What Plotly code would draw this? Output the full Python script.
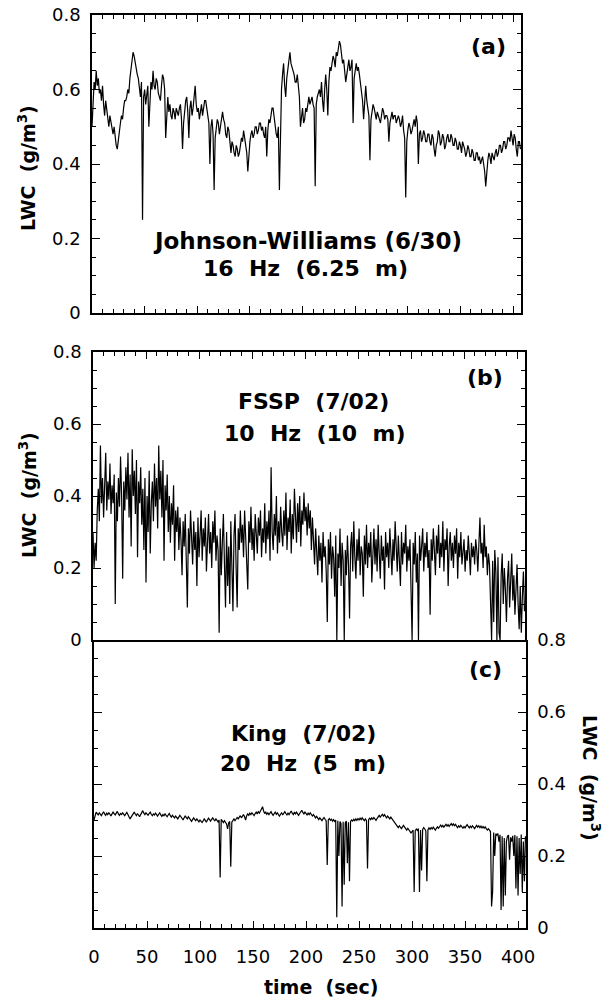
import plotly.graph_objects as go

# ---------------- data ----------------
# Panel (a): Johnson-Williams (6/30), one value per second
time_a = list(range(0, 408))
lwc_a = [
    0.50, 0.58, 0.62, 0.60, 0.65, 0.61, 0.63, 0.59, 0.60, 0.57, 0.61, 0.56, 0.53, 0.57, 0.55, 0.52, 0.50, 0.53, 0.51, 0.49,
    0.48, 0.50, 0.47, 0.45, 0.44, 0.47, 0.49, 0.51, 0.53, 0.52, 0.55, 0.57, 0.57, 0.58, 0.60, 0.59, 0.63, 0.66, 0.68, 0.70,
    0.69, 0.67, 0.66, 0.64, 0.63, 0.60, 0.58, 0.62, 0.25, 0.58, 0.60, 0.56, 0.58, 0.61, 0.50, 0.59, 0.62, 0.60, 0.65, 0.61,
    0.60, 0.63, 0.62, 0.59, 0.58, 0.57, 0.61, 0.64, 0.63, 0.60, 0.47, 0.55, 0.58, 0.54, 0.56, 0.53, 0.52, 0.55, 0.54, 0.52,
    0.55, 0.54, 0.53, 0.55, 0.56, 0.52, 0.44, 0.51, 0.55, 0.57, 0.58, 0.54, 0.47, 0.55, 0.57, 0.53, 0.55, 0.58, 0.61, 0.56,
    0.54, 0.55, 0.52, 0.54, 0.56, 0.53, 0.55, 0.57, 0.57, 0.54, 0.53, 0.51, 0.40, 0.50, 0.52, 0.48, 0.33, 0.47, 0.49, 0.52,
    0.51, 0.48, 0.50, 0.52, 0.54, 0.52, 0.51, 0.48, 0.47, 0.50, 0.49, 0.46, 0.43, 0.46, 0.45, 0.43, 0.42, 0.45, 0.44, 0.42,
    0.43, 0.45, 0.47, 0.46, 0.49, 0.47, 0.45, 0.43, 0.38, 0.44, 0.46, 0.48, 0.49, 0.47, 0.48, 0.50, 0.50, 0.48, 0.49, 0.51,
    0.51, 0.49, 0.50, 0.48, 0.47, 0.50, 0.42, 0.49, 0.52, 0.51, 0.53, 0.55, 0.55, 0.52, 0.50, 0.48, 0.47, 0.50, 0.33, 0.48,
    0.60, 0.64, 0.67, 0.61, 0.58, 0.63, 0.66, 0.69, 0.70, 0.67, 0.66, 0.65, 0.64, 0.62, 0.62, 0.64, 0.61, 0.58, 0.50, 0.53,
    0.55, 0.51, 0.52, 0.55, 0.54, 0.56, 0.58, 0.56, 0.57, 0.58, 0.56, 0.55, 0.34, 0.56, 0.58, 0.59, 0.60, 0.58, 0.62, 0.57,
    0.54, 0.60, 0.64, 0.60, 0.53, 0.62, 0.66, 0.65, 0.67, 0.69, 0.68, 0.66, 0.70, 0.69, 0.71, 0.73, 0.72, 0.69, 0.67, 0.68,
    0.65, 0.62, 0.64, 0.67, 0.68, 0.65, 0.66, 0.68, 0.51, 0.63, 0.66, 0.67, 0.65, 0.66, 0.64, 0.62, 0.60, 0.57, 0.52, 0.58,
    0.61, 0.57, 0.55, 0.53, 0.41, 0.52, 0.54, 0.56, 0.55, 0.53, 0.52, 0.54, 0.53, 0.52, 0.51, 0.53, 0.55, 0.54, 0.52, 0.53,
    0.53, 0.52, 0.46, 0.51, 0.53, 0.54, 0.52, 0.53, 0.53, 0.51, 0.52, 0.53, 0.52, 0.50, 0.51, 0.53, 0.49, 0.47, 0.31, 0.46,
    0.49, 0.51, 0.50, 0.48, 0.49, 0.51, 0.52, 0.50, 0.53, 0.51, 0.40, 0.48, 0.49, 0.46, 0.47, 0.49, 0.48, 0.46, 0.46, 0.48,
    0.48, 0.46, 0.45, 0.48, 0.47, 0.44, 0.42, 0.45, 0.46, 0.49, 0.48, 0.45, 0.46, 0.48, 0.47, 0.44, 0.45, 0.47, 0.48, 0.46,
    0.46, 0.48, 0.47, 0.45, 0.45, 0.47, 0.46, 0.44, 0.44, 0.46, 0.45, 0.43, 0.46, 0.45, 0.44, 0.42, 0.43, 0.45, 0.44, 0.42,
    0.42, 0.44, 0.43, 0.41, 0.41, 0.43, 0.43, 0.41, 0.42, 0.40, 0.41, 0.42, 0.40, 0.38, 0.34, 0.39, 0.41, 0.43, 0.42, 0.40,
    0.43, 0.42, 0.41, 0.43, 0.44, 0.42, 0.43, 0.45, 0.45, 0.43, 0.44, 0.46, 0.46, 0.44, 0.45, 0.47, 0.47, 0.46, 0.49, 0.47,
    0.45, 0.48, 0.47, 0.44, 0.42, 0.46, 0.46, 0.44,
]

# Panel (b): FSSP (7/02), one value per second
time_b = list(range(0, 408))
lwc_b = [
    0.30, 0.20, 0.27, 0.22, 0.36, 0.42, 0.33, 0.54, 0.38, 0.45, 0.34, 0.47, 0.52, 0.36, 0.44, 0.39, 0.49, 0.35, 0.43, 0.38,
    0.46, 0.10, 0.41, 0.33, 0.45, 0.37, 0.51, 0.40, 0.17, 0.44, 0.36, 0.48, 0.39, 0.52, 0.34, 0.46, 0.26, 0.53, 0.40, 0.47,
    0.35, 0.50, 0.23, 0.44, 0.38, 0.48, 0.32, 0.42, 0.25, 0.45, 0.16, 0.40, 0.30, 0.47, 0.24, 0.38, 0.44, 0.33, 0.49, 0.37,
    0.45, 0.31, 0.54, 0.39, 0.47, 0.34, 0.50, 0.22, 0.43, 0.36, 0.46, 0.30, 0.40, 0.27, 0.38, 0.32, 0.43, 0.22, 0.36, 0.30,
    0.37, 0.25, 0.34, 0.28, 0.18, 0.33, 0.26, 0.35, 0.22, 0.09, 0.31, 0.24, 0.36, 0.27, 0.21, 0.33, 0.25, 0.30, 0.15, 0.34,
    0.23, 0.29, 0.36, 0.22, 0.31, 0.26, 0.34, 0.19, 0.28, 0.35, 0.24, 0.30, 0.20, 0.33, 0.27, 0.36, 0.22, 0.29, 0.25, 0.02,
    0.31, 0.18, 0.27, 0.35, 0.21, 0.09, 0.30, 0.15, 0.26, 0.10, 0.33, 0.23, 0.08, 0.29, 0.35, 0.20, 0.09, 0.31, 0.25, 0.36,
    0.27, 0.32, 0.23, 0.36, 0.29, 0.24, 0.14, 0.33, 0.27, 0.37, 0.25, 0.31, 0.22, 0.35, 0.28, 0.24, 0.34, 0.29, 0.36, 0.23,
    0.31, 0.27, 0.38, 0.24, 0.33, 0.28, 0.36, 0.22, 0.48, 0.30, 0.25, 0.35, 0.29, 0.40, 0.24, 0.33, 0.27, 0.37, 0.30, 0.26,
    0.36, 0.29, 0.41, 0.25, 0.34, 0.30, 0.39, 0.24, 0.35, 0.28, 0.42, 0.31, 0.27, 0.38, 0.30, 0.40, 0.26, 0.36, 0.32, 0.41,
    0.33, 0.37, 0.29, 0.38, 0.31, 0.36, 0.25, 0.34, 0.28, 0.21, 0.31, 0.24, 0.18, 0.29, 0.22, 0.27, 0.16, 0.30, 0.23, 0.26,
    0.19, 0.05, 0.28, 0.21, 0.30, 0.17, 0.26, 0.23, 0.12, 0.29, 0.00, 0.24, 0.20, 0.31, 0.15, 0.27, 0.22, 0.00, 0.25, 0.18,
    0.29, 0.21, 0.06, 0.26, 0.30, 0.19, 0.33, 0.23, 0.17, 0.28, 0.22, 0.31, 0.18, 0.26, 0.24, 0.12, 0.29, 0.21, 0.32, 0.20,
    0.27, 0.23, 0.30, 0.16, 0.25, 0.31, 0.21, 0.28, 0.19, 0.32, 0.24, 0.17, 0.29, 0.22, 0.26, 0.14, 0.30, 0.23, 0.27, 0.20,
    0.31, 0.24, 0.18, 0.28, 0.22, 0.33, 0.25, 0.19, 0.29, 0.23, 0.15, 0.30, 0.21, 0.27, 0.24, 0.32, 0.19, 0.26, 0.22, 0.28,
    0.17, 0.00, 0.27, 0.21, 0.30, 0.16, 0.24, 0.00, 0.29, 0.22, 0.26, 0.31, 0.19, 0.27, 0.23, 0.30, 0.20, 0.25, 0.07, 0.28,
    0.22, 0.31, 0.25, 0.18, 0.29, 0.24, 0.32, 0.20, 0.27, 0.23, 0.33, 0.19, 0.28, 0.25, 0.31, 0.15, 0.26, 0.30, 0.22, 0.27,
    0.20, 0.29, 0.24, 0.31, 0.17, 0.27, 0.23, 0.30, 0.21, 0.26, 0.28, 0.19, 0.25, 0.22, 0.29, 0.24, 0.18, 0.27, 0.23, 0.26,
    0.21, 0.28, 0.25, 0.19, 0.30, 0.34, 0.24, 0.27, 0.20, 0.32, 0.23, 0.26, 0.18, 0.24, 0.21, 0.08, 0.00, 0.22, 0.05, 0.25,
    0.19, 0.00, 0.23, 0.02, 0.00, 0.18, 0.24, 0.10, 0.20, 0.14, 0.05, 0.17, 0.22, 0.09, 0.15, 0.24, 0.11, 0.18, 0.07, 0.13,
    0.21, 0.10, 0.03, 0.15, 0.02, 0.12, 0.19, 0.08,
]

# Panel (c): King (7/02), one value per second
time_c = list(range(0, 408))
lwc_c = [
    0.300, 0.312, 0.322, 0.318, 0.314, 0.320, 0.316, 0.312, 0.318, 0.323, 0.317, 0.313, 0.319, 0.315, 0.321, 0.316, 0.311, 0.317, 0.322, 0.318,
    0.314, 0.319, 0.324, 0.317, 0.313, 0.318, 0.315, 0.320, 0.316, 0.312, 0.317, 0.321, 0.315, 0.310, 0.303, 0.308, 0.314, 0.319, 0.322, 0.316,
    0.312, 0.318, 0.314, 0.309, 0.315, 0.321, 0.326, 0.319, 0.315, 0.320, 0.317, 0.313, 0.318, 0.322, 0.316, 0.312, 0.317, 0.314, 0.319, 0.315,
    0.311, 0.316, 0.320, 0.314, 0.310, 0.315, 0.312, 0.317, 0.313, 0.309, 0.314, 0.318, 0.312, 0.308, 0.313, 0.310, 0.306, 0.311, 0.307, 0.303,
    0.308, 0.313, 0.309, 0.304, 0.300, 0.306, 0.311, 0.307, 0.303, 0.309, 0.305, 0.300, 0.296, 0.301, 0.306, 0.302, 0.298, 0.303, 0.299, 0.295,
    0.300, 0.297, 0.293, 0.298, 0.303, 0.299, 0.294, 0.300, 0.305, 0.301, 0.297, 0.302, 0.306, 0.301, 0.298, 0.303, 0.299, 0.295, 0.300, 0.140,
    0.302, 0.297, 0.293, 0.298, 0.294, 0.289, 0.275, 0.292, 0.296, 0.170, 0.294, 0.299, 0.303, 0.298, 0.302, 0.307, 0.303, 0.308, 0.312, 0.306,
    0.310, 0.315, 0.309, 0.300, 0.312, 0.317, 0.313, 0.319, 0.315, 0.320, 0.316, 0.312, 0.318, 0.322, 0.317, 0.323, 0.319, 0.326, 0.331, 0.337,
    0.325, 0.318, 0.322, 0.316, 0.320, 0.315, 0.319, 0.323, 0.317, 0.313, 0.318, 0.322, 0.316, 0.320, 0.315, 0.311, 0.316, 0.320, 0.314, 0.319,
    0.323, 0.318, 0.314, 0.319, 0.315, 0.320, 0.325, 0.319, 0.315, 0.321, 0.317, 0.322, 0.318, 0.313, 0.318, 0.323, 0.327, 0.321, 0.317, 0.322,
    0.318, 0.314, 0.319, 0.315, 0.320, 0.316, 0.311, 0.315, 0.310, 0.306, 0.310, 0.305, 0.301, 0.306, 0.302, 0.298, 0.303, 0.307, 0.302, 0.298,
    0.175, 0.300, 0.304, 0.299, 0.302, 0.297, 0.301, 0.296, 0.300, 0.030, 0.298, 0.200, 0.296, 0.290, 0.060, 0.295, 0.120, 0.292, 0.297, 0.180,
    0.294, 0.130, 0.296, 0.300, 0.297, 0.302, 0.298, 0.303, 0.299, 0.304, 0.300, 0.305, 0.301, 0.306, 0.302, 0.298, 0.303, 0.299, 0.165, 0.301,
    0.305, 0.301, 0.306, 0.302, 0.307, 0.303, 0.299, 0.304, 0.309, 0.313, 0.308, 0.312, 0.316, 0.311, 0.315, 0.310, 0.306, 0.311, 0.307, 0.303,
    0.308, 0.304, 0.300, 0.296, 0.291, 0.287, 0.283, 0.279, 0.284, 0.280, 0.276, 0.281, 0.285, 0.280, 0.276, 0.272, 0.277, 0.273, 0.269, 0.264,
    0.268, 0.272, 0.100, 0.270, 0.275, 0.271, 0.276, 0.100, 0.272, 0.160, 0.274, 0.279, 0.275, 0.270, 0.130, 0.273, 0.278, 0.274, 0.279, 0.275,
    0.280, 0.276, 0.272, 0.277, 0.281, 0.277, 0.282, 0.286, 0.281, 0.285, 0.280, 0.284, 0.288, 0.283, 0.287, 0.282, 0.286, 0.290, 0.285, 0.289,
    0.284, 0.288, 0.283, 0.279, 0.284, 0.280, 0.285, 0.281, 0.277, 0.282, 0.278, 0.283, 0.287, 0.282, 0.278, 0.283, 0.279, 0.284, 0.280, 0.276,
    0.281, 0.285, 0.280, 0.284, 0.279, 0.283, 0.278, 0.282, 0.277, 0.281, 0.276, 0.272, 0.276, 0.271, 0.268, 0.060, 0.100, 0.265, 0.200, 0.262,
    0.258, 0.262, 0.240, 0.259, 0.050, 0.255, 0.060, 0.250, 0.090, 0.240, 0.255, 0.258, 0.190, 0.252, 0.240, 0.256, 0.200, 0.258, 0.110, 0.255,
    0.090, 0.250, 0.150, 0.260, 0.100, 0.240, 0.130, 0.255,
]

y_tick_step = 0.2
y_minor_step = 0.05
x_tick_step = 50
x_minor_step = 10

# ---------------- layout helpers ----------------
W, H = 608, 998
def fx(p):
    return p / W
def fy(p):
    return 1 - p / H

TICKFONT = dict(family="DejaVu Sans", size=18, color="black")
BOLD = "DejaVu Sans, Arial, sans-serif"

fig = go.Figure()
fig.add_trace(go.Scatter(x=time_a, y=lwc_a, mode="lines", xaxis="x", yaxis="y",
                         line=dict(color="black", width=1.2), hoverinfo="skip"))
fig.add_trace(go.Scatter(x=time_b, y=lwc_b, mode="lines", xaxis="x2", yaxis="y2",
                         line=dict(color="black", width=1.2), hoverinfo="skip"))
fig.add_trace(go.Scatter(x=time_c, y=lwc_c, mode="lines", xaxis="x3", yaxis="y3",
                         line=dict(color="black", width=1.2), hoverinfo="skip"))

def xax(domain, anchor, side, mirror, labels):
    return dict(domain=domain, anchor=anchor, side=side, range=[0, 407.5],
                automargin=False,
                showline=True, linecolor="black", linewidth=1.5, mirror=mirror,
                ticks="inside", ticklen=7, tickwidth=1.3, tickcolor="black",
                tickmode="linear", tick0=0, dtick=x_tick_step,
                showticklabels=labels,
                tickfont=TICKFONT, ticklabelstandoff=12,
                minor=dict(ticks="inside", ticklen=4, tickwidth=1.1,
                           tickmode="linear", tick0=0, dtick=x_minor_step,
                           tickcolor="black", showgrid=False),
                showgrid=False, zeroline=False, fixedrange=True)

def yax(domain, anchor, side):
    return dict(domain=domain, anchor=anchor, side=side, range=[0, 0.8],
                automargin=False,
                showline=True, linecolor="black", linewidth=1.5, mirror="ticks",
                ticks="inside", ticklen=8, tickwidth=1.3, tickcolor="black",
                tickmode="linear", tick0=0, dtick=y_tick_step,
                showticklabels=True,
                tickfont=TICKFONT, ticklabelstandoff=6,
                minor=dict(ticks="inside", ticklen=4, tickwidth=1.1,
                           tickmode="linear", tick0=0, dtick=y_minor_step,
                           tickcolor="black", showgrid=False),
                showgrid=False, zeroline=False, fixedrange=True)

fig.update_layout(
    template="none",
    width=W, height=H, margin=dict(l=0, r=0, t=0, b=0, pad=0),
    paper_bgcolor="white", plot_bgcolor="white", showlegend=False,
    xaxis=xax([fx(92), fx(521)], "y", "bottom", "ticks", False),
    yaxis=yax([fy(313), fy(15)], "x", "left"),
    xaxis2=xax([fx(93), fx(525)], "y2", "top", True, False),
    yaxis2=yax([fy(640), fy(352)], "x2", "left"),
    xaxis3=xax([fx(94), fx(526)], "y3", "bottom", False, True),
    yaxis3=yax([fy(928), fy(640)], "x3", "right"),
)

def ann(text, x, y, size=22, angle=0):
    return dict(text=text, x=fx(x), y=fy(y), xref="paper", yref="paper",
                showarrow=False, xanchor="center", yanchor="middle",
                textangle=angle,
                font=dict(family=BOLD, size=size, color="black", weight="bold"))

annotations = [
    ann("(a)", 488, 46),
    ann("Johnson-Williams (6/30)", 307, 241, size=23),
    ann("16  Hz  (6.25  m)", 305, 268),
    ann("(b)", 485, 377),
    ann("FSSP  (7/02)", 313, 401),
    ann("10  Hz  (10  m)", 314, 433),
    ann("(c)", 485, 669),
    ann("King  (7/02)", 303, 733),
    ann("20  Hz  (5  m)", 303, 763),
    ann("LWC  (g/m<sup>3</sup>)", 27, 168, size=19, angle=-90),
    ann("LWC  (g/m<sup>3</sup>)", 28, 495, size=19, angle=-90),
    ann("LWC  (g/m<sup>3</sup>)", 591, 778, size=19, angle=90),
    ann("time  (sec)", 321, 987, size=19),
]
fig.update_layout(annotations=annotations)

fig.write_html("out.html")
